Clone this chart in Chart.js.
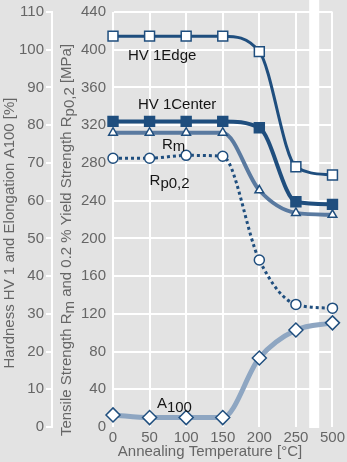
<!DOCTYPE html>
<html>
<head>
<meta charset="utf-8">
<script src="https://cdn.jsdelivr.net/npm/chart.js@4/dist/chart.umd.min.js"></script>
<style>
html, body { margin: 0; padding: 0; background: #e3e3e3; }
canvas { display: block; }
</style>
</head>
<body>
<canvas id="myChart" width="347" height="462"></canvas>
<script>
// annealing temperatures (category axis, break between 250 and 500)
const temps = ['0', '50', '100', '150', '200', '250', '500'];

// hardness HV1 and elongation A100, left scale [%]
const hvEdge   = [103.6, 103.6, 103.6, 103.6, 99.5, 69.0, 66.8];
const hvCenter = [81.0, 81.0, 81.0, 81.0, 79.3, 59.7, 59.0];
const a100     = [3.2, 2.5, 2.5, 2.5, 18.3, 25.7, 27.6];

// tensile strength Rm and yield strength Rp0,2, MPa
const rm   = [312, 312, 312, 312, 251, 227, 225];
const rp02 = [285, 285, 288, 287, 177, 130, 126];

const hvTicks = { min: 0, max: 110, step: 10 };
const mpaTicks = { min: 0, max: 440, step: 40 };

const blue = '#1f4e7e';
const font = 'Liberation Sans, Arial, sans-serif';

function richText(c, parts, x, y) {
	// parts: [text, dy] drawn one after another
	let cx = x;
	parts.forEach(p => {
		c.fillText(p[0], cx, y + p[1]);
		cx += c.measureText(p[0]).width;
	});
}
function richWidth(c, parts) {
	return parts.reduce((s, p) => s + c.measureText(p[0]).width, 0);
}

const decor = {
	id: 'decor',
	beforeDraw(chart) {
		const c = chart.ctx, a = chart.chartArea, xs = chart.scales.x;
		c.save();
		c.fillStyle = '#e3e3e3';
		c.fillRect(0, 0, chart.width, chart.height);
		const bx = (xs.getPixelForValue(5) + xs.getPixelForValue(6)) / 2;
		c.fillStyle = '#ffffff';
		c.fillRect(bx - 5, 0, 10, a.bottom + 1);
		c.restore();
	},
	afterDraw(chart) {
		const c = chart.ctx, xs = chart.scales.x, ys = chart.scales.y;
		c.save();
		c.fillStyle = '#666';
		c.font = '15px ' + font;
		c.textBaseline = 'middle';

		// left axis title
		let parts = [['Hardness HV 1 and Elongation A100 [%]', 0]];
		c.save();
		c.translate(10, 233);
		c.rotate(-Math.PI / 2);
		richText(c, parts, -richWidth(c, parts) / 2, 0);
		c.restore();

		// inner axis title
		parts = [['Tensile Strength R', 0], ['m', 3], [' and 0.2 % Yield Strength R', 0], ['p0,2', 3], [' [MPa]', 0]];
		c.save();
		c.translate(67, 240);
		c.rotate(-Math.PI / 2);
		richText(c, parts, -richWidth(c, parts) / 2, 0);
		c.restore();

		// x title
		c.textAlign = 'center';
		c.fillText('Annealing Temperature [°C]', 210, 452);

		// series labels
		c.textAlign = 'left';
		c.textBaseline = 'alphabetic';
		c.fillStyle = '#151515';
		const labels = [
			[[['HV 1Edge', 0]], 0.41, 97.4],
			[[['HV 1Center', 0]], 0.68, 84.2],
			[[['R', 0], ['m', 2]], 1.34, 73.6],
			[[['R', 0], ['p0,2', 3]], 1.0, 64.1],
			[[['A', 0], ['100', 4]], 1.2, 5.0]
		];
		labels.forEach(l => richText(c, l[0], xs.getPixelForValue(l[1]), ys.getPixelForValue(l[2])));
		c.restore();
	}
};

const ctx = document.getElementById('myChart').getContext('2d');

const myChart = new Chart(ctx, {
	type: 'line',
	data: {
		labels: temps,
		datasets: [
			{
				label: 'Rp0,2',
				data: rp02,
				yAxisID: 'y2',
				borderColor: blue,
				borderWidth: 3,
				borderDash: [3, 3],
				pointStyle: 'circle',
				pointRadius: 5,
				pointBackgroundColor: '#fff',
				pointBorderColor: blue,
				pointBorderWidth: 1.5,
				order: 1
			},
			{
				label: 'HV 1Edge',
				data: hvEdge,
				yAxisID: 'y',
				borderColor: blue,
				borderWidth: 3,
				pointStyle: 'rect',
				pointRadius: 7,
				pointBackgroundColor: '#fff',
				pointBorderColor: blue,
				pointBorderWidth: 1.5,
				order: 2
			},
			{
				label: 'HV 1Center',
				data: hvCenter,
				yAxisID: 'y',
				borderColor: blue,
				borderWidth: 4,
				pointStyle: 'rect',
				pointRadius: 7,
				pointBackgroundColor: blue,
				pointBorderColor: blue,
				pointBorderWidth: 1.5,
				order: 3
			},
			{
				label: 'Rm',
				data: rm,
				yAxisID: 'y2',
				borderColor: '#5a7aa0',
				borderWidth: 4,
				pointStyle: 'triangle',
				pointRadius: 5,
				pointBackgroundColor: '#fff',
				pointBorderColor: blue,
				pointBorderWidth: 1.5,
				order: 4
			},
			{
				label: 'A100',
				data: a100,
				yAxisID: 'y',
				borderColor: '#8ea6c2',
				borderWidth: 5,
				pointStyle: 'rectRot',
				pointRadius: 7,
				pointBackgroundColor: '#fff',
				pointBorderColor: blue,
				pointBorderWidth: 1.5,
				order: 5
			}
		]
	},
	options: {
		responsive: false,
		animation: false,
		devicePixelRatio: 1,
		layout: { padding: { top: 12, right: 14, left: 0, bottom: 0 } },
		elements: { line: { cubicInterpolationMode: 'monotone' } },
		datasets: { line: { clip: false } },
		plugins: {
			legend: { display: false },
			tooltip: { enabled: false }
		},
		scales: {
			x: {
				grid: { color: '#fff', lineWidth: 2, drawTicks: false },
				border: { display: false },
				ticks: { color: '#666', font: { family: font, size: 15 }, padding: 2, autoSkip: false, maxRotation: 0 },
				afterFit(s) { s.height = 35; }
			},
			y: {
				position: 'left',
				weight: 2,
				min: hvTicks.min,
				max: hvTicks.max,
				grid: {
					color: c => c.tick && c.tick.value === 0 ? 'rgba(0,0,0,0)' : '#fff',
					tickColor: '#fff',
					lineWidth: 2,
					tickLength: 6
				},
				border: { color: '#fff', width: 2 },
				ticks: { stepSize: hvTicks.step, color: '#666', font: { family: font, size: 15 }, padding: 2 },
				afterFit(s) { s.width = 52; }
			},
			y2: {
				position: 'left',
				weight: 1,
				min: mpaTicks.min,
				max: mpaTicks.max,
				grid: { display: false, drawTicks: true, tickLength: 5 },
				border: { display: false },
				ticks: { stepSize: mpaTicks.step, color: '#666', font: { family: font, size: 15 }, padding: 2 },
				afterFit(s) { s.width = 61; }
			}
		}
	},
	plugins: [decor]
});
</script>
</body>
</html>
